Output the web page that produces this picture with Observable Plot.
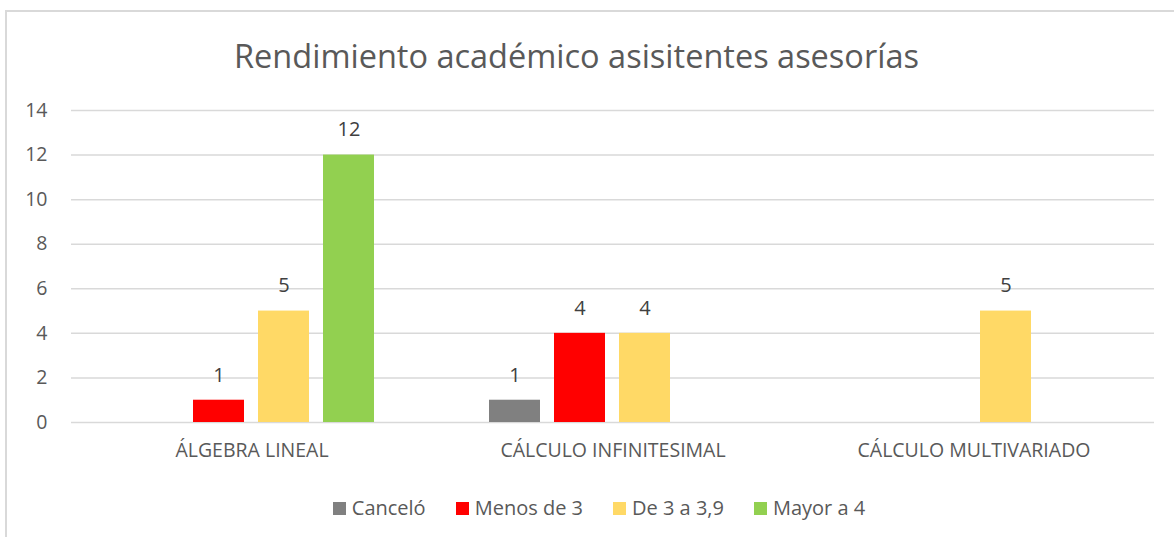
<!DOCTYPE html>
<html>
<head>
<meta charset="utf-8">
<script src="https://cdn.jsdelivr.net/npm/d3@7"></script>
<script src="https://cdn.jsdelivr.net/npm/@observablehq/plot@0.6"></script>
<style>
  html, body { margin: 0; padding: 0; background: #fff; }
  body { width: 1174px; height: 537px; position: relative; overflow: hidden; font-family: "Open Sans", sans-serif; }
  #frame { position: absolute; left: 5px; top: 10px; width: 1200px; height: 600px; border-left: 2px solid #d9d9d9; border-top: 2px solid #d9d9d9; box-sizing: border-box; }
  #title { position: absolute; left: 0; width: 1153px; top: 35px; text-align: center; font-size: 32.5px; color: #595959; line-height: 42px; }
  #chart { position: absolute; left: 0; top: 95px; }
  #legend { position: absolute; left: 0; width: 1198px; top: 494px; display: flex; justify-content: center; gap: 30px; font-size: 20px; color: #595959; line-height: 28px; }
  #legend .item { display: flex; align-items: center; gap: 6px; }
  #legend .sw { width: 13px; height: 13px; display: inline-block; }
</style>
</head>
<body>
<div id="frame"></div>
<div id="title">Rendimiento académico asisitentes asesorías</div>
<div id="chart"></div>
<div id="legend"></div>
<script>
const subjects = ["ÁLGEBRA LINEAL", "CÁLCULO INFINITESIMAL", "CÁLCULO MULTIVARIADO"];
const seriesNames = ["Canceló", "Menos de 3", "De 3 a 3,9", "Mayor a 4"];
const seriesColors = ["#808080", "#ff0000", "#ffd966", "#92d050"];
const cancelo   = [null, 1, null];
const menosDe3  = [1, 4, null];
const de3a39    = [5, 4, 5];
const mayorA4   = [12, null, null];
const yTicks = [0, 2, 4, 6, 8, 10, 12, 14];

const seriesValues = [cancelo, menosDe3, de3a39, mayorA4];
const data = [];
subjects.forEach((s, i) => {
  seriesNames.forEach((n, j) => {
    const v = seriesValues[j][i];
    if (v != null) data.push({subject: s, series: n, value: v});
  });
});

const plot = Plot.plot({
  width: 1174,
  height: 377,
  marginLeft: 70,
  marginRight: 19,
  marginTop: 15,
  marginBottom: 50,
  style: { fontFamily: "'Open Sans', sans-serif", fontSize: "18px", color: "#595959", background: "transparent" },
  fx: { domain: subjects, padding: 0, label: null },
  x: { domain: seriesNames, paddingInner: 0.2121, paddingOuter: 0.846, axis: null },
  y: { domain: [0, 14], ticks: yTicks, label: null },
  color: { domain: seriesNames, range: seriesColors },
  marks: [
    Plot.ruleY(yTicks, { stroke: "#d9d9d9", strokeWidth: 1.5 }),
    Plot.axisY({ ticks: yTicks, tickSize: 0, tickPadding: 24, label: null, fill: "#595959", fontSize: 19.5 }),
    Plot.axisFx({ anchor: "bottom", tickSize: 0, tickPadding: 21, label: null, fill: "#595959", fontSize: 19.5 }),
    Plot.barY(data, { fx: "subject", x: "series", y: "value", fill: "series" }),
    Plot.text(data, { fx: "subject", x: "series", y: "value", text: d => String(d.value), dy: -25, fill: "#404040", fontSize: 20, lineAnchor: "middle" })
  ]
});
document.getElementById("chart").appendChild(plot);

const color = plot.scale("color");
const legend = document.getElementById("legend");
seriesNames.forEach(n => {
  const item = document.createElement("div");
  item.className = "item";
  const sw = document.createElement("span");
  sw.className = "sw";
  sw.style.background = color.apply(n);
  const t = document.createElement("span");
  t.textContent = n;
  item.appendChild(sw); item.appendChild(t);
  legend.appendChild(item);
});
</script>
</body>
</html>
